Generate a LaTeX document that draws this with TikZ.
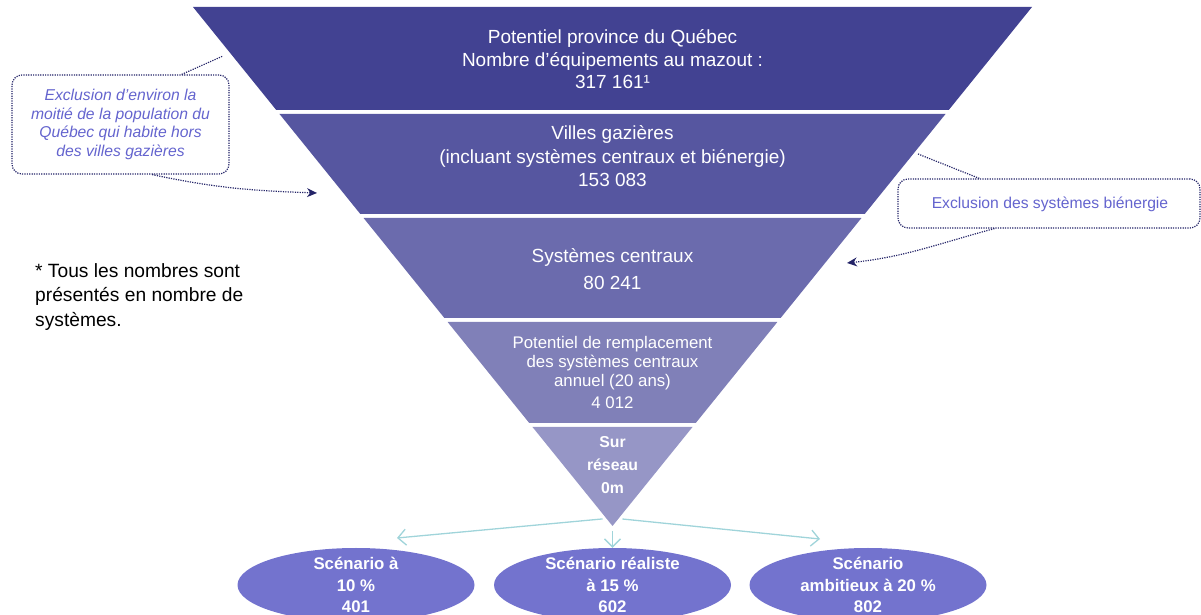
\documentclass[tikz,border=0pt]{standalone}
\usepackage{fontspec}
\setmainfont{Liberation Sans}
\usetikzlibrary{arrows.meta,calc,shapes.geometric}
\definecolor{BandClrA}{RGB}{66,66,146}
\definecolor{BandClrB}{RGB}{86,86,160}
\definecolor{BandClrC}{RGB}{107,107,173}
\definecolor{BandClrD}{RGB}{128,128,184}
\definecolor{BandClrE}{RGB}{150,150,198}
\definecolor{ScenClr}{RGB}{115,115,206}
\definecolor{NoteClr}{RGB}{100,100,206}
\definecolor{DotClr}{RGB}{36,36,104}
\definecolor{FlowClr}{RGB}{160,212,218}

\tikzset{
  bandtext/.style={text=white,align=center,inner sep=0pt,font=\fontsize{19}{22.5}\selectfont},
  calloutbox/.style={draw=DotClr,line width=1.2pt,dash pattern=on 1.2pt off 1.2pt,rounded corners=10pt,inner sep=0pt},
  callouttext/.style={text=NoteClr,align=center,inner sep=0pt,font=\fontsize{15.7}{18.7}\selectfont\itshape},
  scenario/.style={ellipse,fill=ScenClr,minimum width=237pt,minimum height=74pt,inner sep=0pt},
  scentext/.style={text=white,align=center,inner sep=0pt,font=\fontsize{16.8}{21.5}\selectfont\bfseries},
  flow/.style={FlowClr,line width=1.3pt,-{Straight Barb[length=8pt,width=16pt]}},
  pointer/.style={DotClr,line width=1.2pt,dash pattern=on 1.2pt off 1.2pt},
}

\begin{document}
\begin{tikzpicture}[x=1pt,y=1pt]
\useasboundingbox (0,0) rectangle (1201,615);

% arrows to the scenarios (under the funnel)
\coordinate (fork) at (612.5,97);
\coordinate (apex) at (612.5,89);
\coordinate (toA) at (397,77);
\coordinate (toC) at (820,76);
\draw[flow,shorten <=10pt] (fork) -- (toA);
\draw[flow,shorten <=10pt] (fork) -- (toC);

% funnel bands
\foreach \top/\bot/\clr in {608/505/BandClrA,501/401/BandClrB,397/297/BandClrC,293/192/BandClrD,188/89/BandClrE}{
  \fill[\clr] ({612.5-(\top-89)*0.8083},\top) -- ({612.5+(\top-89)*0.8083},\top)
    -- ({612.5+(\bot-89)*0.8083},\bot) -- ({612.5-(\bot-89)*0.8083},\bot) -- cycle;
}

\node[bandtext] (quebec) at (612.5,555.5) {Potentiel province du Québec\\Nombre d’équipements au mazout :\\317 161¹};
\node[bandtext,font=\fontsize{19}{23.5}\selectfont] (villes) at (612.5,458.5) {Villes gazières\\(incluant systèmes centraux et biénergie)\\153 083};
\node[bandtext] (centraux) at (612.5,346) {Systèmes centraux\\[5pt]80 241};
\node[bandtext,font=\fontsize{16.8}{19}\selectfont] (remplace) at (612.5,243) {Potentiel de remplacement\\des systèmes centraux\\annuel (20 ans)\\[3pt]4 012};
\node[bandtext,font=\fontsize{15.8}{23}\selectfont\bfseries] (reseau) at (612.5,149.5) {Sur\\réseau\\0m};

% scenarios
\node[scenario,label={[scentext]center:{Scénario à\\10~\%\\401}}] (scenA) at (356,30) {};
\node[scenario,label={[scentext]center:{Scénario réaliste\\à 15~\%\\602}}] (scenB) at (612.5,30) {};
\node[scenario,label={[scentext]center:{Scénario\\ambitieux à 20~\%\\802}}] (scenC) at (868,30) {};
\draw[flow,shorten <=5pt] (apex) -- (scenB.north);

% callouts
\node[calloutbox,minimum width=217pt,minimum height=99pt] (gasbox) at (120.5,490.5) {};
\node[callouttext] (gastext) at (gasbox) {Exclusion d’environ la\\moitié de la population du\\Québec qui habite hors\\des villes gazières};
\coordinate (gastip) at (223,559);
\coordinate (gasend) at (317,422);
\draw[pointer] ($(gasbox.north west)!0.78!(gasbox.north east)$) -- (gastip);
\draw[pointer,-{Stealth[length=10pt,width=9pt]}] ($(gasbox.south west)!0.645!(gasbox.south east)$) to[out=-12,in=178] (gasend);

\node[calloutbox,minimum width=302pt,minimum height=49pt] (bibox) at (1049,411.5) {};
\node[callouttext,font=\fontsize{15.7}{18.7}\selectfont] (bitext) at (1050,411) {Exclusion des systèmes biénergie};
\coordinate (bitip) at (918,461);
\coordinate (biend) at (847,352);
\draw[pointer] ($(bibox.north west)!0.27!(bibox.north east)$) -- (bitip);
\draw[pointer,-{Stealth[length=10pt,width=9pt]}] ($(bibox.south west)!0.32!(bibox.south east)$) to[out=195,in=6] (biend);

% note
\node[anchor=west,align=left,inner sep=0pt,font=\fontsize{19.2}{24.5}\selectfont] (note) at (35,318) {* Tous les nombres sont\\présentés en nombre de\\systèmes.};

\end{tikzpicture}
\end{document}
